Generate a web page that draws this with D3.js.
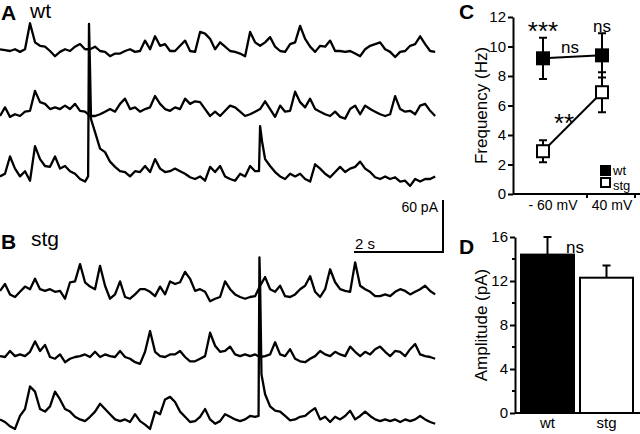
<!DOCTYPE html>
<html>
<head>
<meta charset="utf-8">
<script src="https://cdn.jsdelivr.net/npm/d3@7"></script>
<style>
  body { margin: 0; background: #fff; }
  svg { display: block; font-family: "Liberation Sans", Arial, sans-serif; }
</style>
</head>
<body>
<div id="figure"></div>
<script>
// sweeps, current in pA above baseline, one sample every dt seconds
const dt = 0.1124;
const wtSweep1 = [2,1,0,2,-1,2,32,10,6,5, 0,-6,-1,2,0,5,8,2,2,5, 0,-1,-6,-3,-3,0,2,-1,0,12,
  2,17,6,8,0,0,6,12,0,-1, 22,20,14,2,10,5,0,-1,-3,-6, 22,10,6,10,16,5,0,-1,8,10,
  29,14,5,-1,6,5,12,0,0,-1, 0,-3,-6,2,6,8,10,2,-1,-7, -1,0,6,8,17,8,0,-1];
const wtSweep2 = [0,10,-1,2,0,5,6,29,16,14, 8,10,8,12,8,14,6,5,0,0, 2,5,8,5,14,20,8,10,5,8,
  10,23,14,8,6,10,8,20,14,17, 16,8,0,5,0,6,12,10,5,0, 2,5,8,17,8,-1,12,5,6,28,
  16,10,20,8,5,2,0,5,-1,-3, 8,12,2,12,8,5,2,0,2,23, 8,5,6,2,12,14,6,0];
const wtSweep3 = [3,6,26,12,3,9,-2,38,23,15, 14,26,12,15,9,6,0,-3,127,54, 35,31,20,14,9,8,3,9,8,15,
  8,23,12,8,9,12,9,6,2,0, 3,-2,14,8,15,3,0,-2,6,3, 15,9,61,23,15,8,3,0,6,3,
  6,0,-3,17,12,6,2,8,14,8, 12,14,20,12,8,2,0,3,0,2, -3,-2,-8,0,-3,0,0,3];
// fast rising events, [s, pA]
const wtFast3 = [[1.98, 3], [2.0, 179], [2.045, 69], [5.82, 9], [5.89, 43]];

const stgSweep1 = [7,15,3,0,6,12,9,21,9,7, 9,6,7,-2,17,18,38,17,12,9, 36,13,-2,3,18,0,-2,3,9,9,
  6,1,12,3,18,15,17,29,21,7, 9,6,-5,-2,0,18,9,3,0,-2, 0,1,13,23,9,6,13,1,0,3,
  9,13,24,6,0,9,32,17,9,7, 6,40,13,9,6,1,1,3,1,6, 9,7,3,6,9,13,7,3];
const stgSweep2 = [1,0,7,1,3,1,6,18,7,14, 0,-2,3,-6,-2,0,1,3,0,6, 0,3,1,0,7,0,-2,-6,-8,6,
  30,6,1,0,3,3,7,0,-5,-5, -2,1,28,13,6,7,12,3,1,3, 1,3,0,1,3,17,3,1,9,-2,
  -5,-6,-2,1,7,3,1,6,3,1, 12,6,1,6,3,9,12,6,1,7, 6,1,9,15,3,1,0,-2];
const stgSweep3 = [3,0,-5,-8,7,15,41,35,15,12, 18,35,26,15,12,6,3,1,6,12, 21,15,9,3,1,3,0,9,1,-3,
  -8,12,9,26,29,23,12,6,0,1, 6,15,3,-2,1,9,6,3,1,3, 7,6,161,32,18,13,12,7,2,3,
  6,7,12,16,3,6,0,6,3,7, 13,3,7,12,7,3,1,3,1,3, 0,3,1,3,7,3,0,-2];
const stgFast3 = [[5.81, 7], [5.83, 190], [5.876, 55]];

// scale bar
const barTime = 2;    // s
const barCurrent = 60; // pA

// C: mean frequency (Hz) +- SEM
const holding = ['- 60 mV', '40 mV'];
const wtFreq = [9.2, 9.4];
const wtFreqErr = [1.4, 1.5];
const stgFreq = [2.9, 6.9];
const stgFreqErr = [0.75, 1.35];
const freqTicks = [0, 2, 4, 6, 8, 10, 12];

// D: mean amplitude (pA) +- SEM
const genotypes = ['wt', 'stg'];
const amplitude = [14.4, 12.3];
const amplitudeErr = [1.6, 1.1];
const ampTicks = [0, 4, 8, 12, 16];
const ampMinor = [2, 6, 10, 14];

const width = 640;
const height = 434;

const svg = d3.select('#figure').append('svg')
  .attr('width', width)
  .attr('height', height);

function label(x, y, txt, size, bold, anchor) {
  return svg.append('text')
    .attr('x', x).attr('y', y)
    .attr('font-size', size)
    .attr('font-weight', bold ? 'bold' : 'normal')
    .attr('text-anchor', anchor || 'start')
    .text(txt);
}

// ---- A / B traces
const xT = d3.scaleLinear().domain([0, 9.8]).range([0, 9.8 * 44.5]);
const yT = d3.scaleLinear().domain([0, barCurrent]).range([0, -52]);
const traceLine = d3.line().x(d => xT(d[0])).y(d => yT(d[1]));

function sweepPoints(values, fast) {
  const pts = values.map((v, i) => [i * dt, v]);
  (fast || []).forEach(p => pts.push(p));
  return pts.sort((a, b) => a[0] - b[0]);
}

const sweeps = [
  {vals: wtSweep1, base: 51}, {vals: wtSweep2, base: 116}, {vals: wtSweep3, fast: wtFast3, base: 179},
  {vals: stgSweep1, base: 297}, {vals: stgSweep2, base: 357}, {vals: stgSweep3, fast: stgFast3, base: 422}
];

sweeps.forEach(s => {
  svg.append('path')
    .attr('transform', `translate(0, ${s.base})`)
    .attr('d', traceLine(sweepPoints(s.vals, s.fast)))
    .attr('fill', 'none')
    .attr('stroke', '#000')
    .attr('stroke-width', 2.3)
    .attr('stroke-linejoin', 'round');
});

label(1, 20, 'A', 21, true);
label(30, 18, 'wt', 21);
label(1, 249, 'B', 21, true);
label(31, 246, 'stg', 21);

// scale bar
const barX = 354, barY = 252;
const bar = svg.append('g').attr('transform', `translate(${barX}, ${barY})`);
bar.append('path')
  .attr('d', `M0,0H${xT(barTime)}V${yT(barCurrent)}`)
  .attr('fill', 'none')
  .attr('stroke', '#000')
  .attr('stroke-width', 2);
label(barX + 1, barY - 3, barTime + ' s', 15);
label(barX + xT(barTime) - 5, barY + yT(barCurrent) + 12, barCurrent + ' pA', 14, false, 'end');

// ---- C frequency
const yC = d3.scaleLinear().domain([0, 12]).range([194, 17]);
const xC = d3.scalePoint().domain(holding).range([543, 602]);
const xCBand = d3.scaleBand().domain(holding).range([539, 635]);

const axC = svg.append('g')
  .attr('transform', 'translate(513, 0)')
  .call(d3.axisLeft(yC).tickValues(freqTicks).tickSize(5).tickSizeOuter(0).tickPadding(2));
axC.selectAll('text').attr('font-size', 15).attr('font-family', null);
axC.selectAll('path, line').attr('stroke-width', 2);

svg.append('line')
  .attr('x1', 513).attr('x2', 640).attr('y1', yC(0)).attr('y2', yC(0))
  .attr('stroke', '#000').attr('stroke-width', 2);
holding.forEach(h => {
  const tx = xCBand(h) + xCBand.bandwidth();
  svg.append('line')
    .attr('x1', tx).attr('x2', tx).attr('y1', yC(0)).attr('y2', yC(0) + 4)
    .attr('stroke', '#000').attr('stroke-width', 2);
  label(xC(h) + 10, 210, h, 14, false, 'middle');
});

svg.append('text')
  .attr('transform', `translate(487, ${(yC(0) + yC(12)) / 2}) rotate(-90)`)
  .attr('text-anchor', 'middle')
  .attr('font-size', 17)
  .text('Frequency (Hz)');

const groupsC = [
  {mean: wtFreq, err: wtFreqErr, fill: '#000'},
  {mean: stgFreq, err: stgFreqErr, fill: '#fff'}
];
groupsC.forEach(g => {
  const pts = holding.map((h, i) => ({h, m: g.mean[i], e: g.err[i]}));
  svg.append('path')
    .attr('d', d3.line().x(d => xC(d.h)).y(d => yC(d.m))(pts))
    .attr('stroke', '#000').attr('stroke-width', 2).attr('fill', 'none');
  const eb = svg.append('g').selectAll('g').data(pts).enter().append('g');
  eb.append('line')
    .attr('x1', d => xC(d.h)).attr('x2', d => xC(d.h))
    .attr('y1', d => yC(d.m - d.e)).attr('y2', d => yC(d.m + d.e))
    .attr('stroke', '#000').attr('stroke-width', 2);
  eb.append('path')
    .attr('d', d => `M${xC(d.h) - 4},${yC(d.m + d.e)}h8M${xC(d.h) - 4},${yC(d.m - d.e)}h8`)
    .attr('stroke', '#000').attr('stroke-width', 2);
});
groupsC.forEach(g => {
  svg.append('g').selectAll('rect')
    .data(holding.map((h, i) => ({h, m: g.mean[i]})))
    .enter().append('rect')
      .attr('x', d => xC(d.h) - 6)
      .attr('y', d => yC(d.m) - 6)
      .attr('width', 12).attr('height', 12)
      .attr('fill', g.fill)
      .attr('stroke', '#000').attr('stroke-width', 2);
});

label(543, 40, '***', 26, false, 'middle');
label(602, 32, 'ns', 17, false, 'middle');
label(570, 53, 'ns', 17, false, 'middle');
label(564, 132, '**', 26, false, 'middle');

// legend
genotypes.forEach((gname, i) => {
  svg.append('rect')
    .attr('x', 601).attr('y', 166 + i * 12)
    .attr('width', 9).attr('height', 9)
    .attr('fill', i === 0 ? '#000' : '#fff')
    .attr('stroke', '#000').attr('stroke-width', 2);
  label(613, 175 + i * 15, gname, 13);
});

label(459, 19, 'C', 21, true);

// ---- D amplitude
const yD = d3.scaleLinear().domain([0, 16]).range([413, 237]);
const xD = d3.scaleBand().domain(genotypes).range([520, 634]).paddingInner(0.068);

const axD = svg.append('g')
  .attr('transform', 'translate(515, 0)')
  .call(d3.axisLeft(yD).tickValues(ampTicks).tickSize(5).tickSizeOuter(0).tickPadding(2));
axD.selectAll('text').attr('font-size', 15).attr('font-family', null);
axD.selectAll('path, line').attr('stroke-width', 2);
svg.append('g').selectAll('line')
  .data(ampMinor).enter().append('line')
    .attr('x1', 512).attr('x2', 515)
    .attr('y1', d => yD(d)).attr('y2', d => yD(d))
    .attr('stroke', '#000').attr('stroke-width', 2);

svg.append('text')
  .attr('transform', `translate(487, ${(yD(0) + yD(16)) / 2}) rotate(-90)`)
  .attr('text-anchor', 'middle')
  .attr('font-size', 17)
  .text('Amplitude (pA)');

const barsD = genotypes.map((gname, i) => ({g: gname, m: amplitude[i], e: amplitudeErr[i]}));
svg.append('g').selectAll('path')
  .data(barsD).enter().append('path')
    .attr('d', d => {
      const cx = xD(d.g) + xD.bandwidth() / 2;
      return `M${cx},${yD(d.m)}V${yD(d.m + d.e)}M${cx - 4},${yD(d.m + d.e)}h8`;
    })
    .attr('stroke', '#000').attr('stroke-width', 2);
svg.append('g').selectAll('rect')
  .data(barsD).enter().append('rect')
    .attr('x', d => xD(d.g) + 1)
    .attr('y', d => yD(d.m))
    .attr('width', xD.bandwidth() - 2)
    .attr('height', d => yD(0) - yD(d.m))
    .attr('fill', (d, i) => i === 0 ? '#000' : '#fff')
    .attr('stroke', '#000').attr('stroke-width', 2);

svg.append('line')
  .attr('x1', 515).attr('x2', 640).attr('y1', yD(0)).attr('y2', yD(0))
  .attr('stroke', '#000').attr('stroke-width', 2);
genotypes.forEach(gname => {
  label(xD(gname) + xD.bandwidth() / 2, 428, gname, 15, false, 'middle');
});
label(575, 253, 'ns', 17, false, 'middle');

label(459, 254, 'D', 21, true);
</script>
</body>
</html>
